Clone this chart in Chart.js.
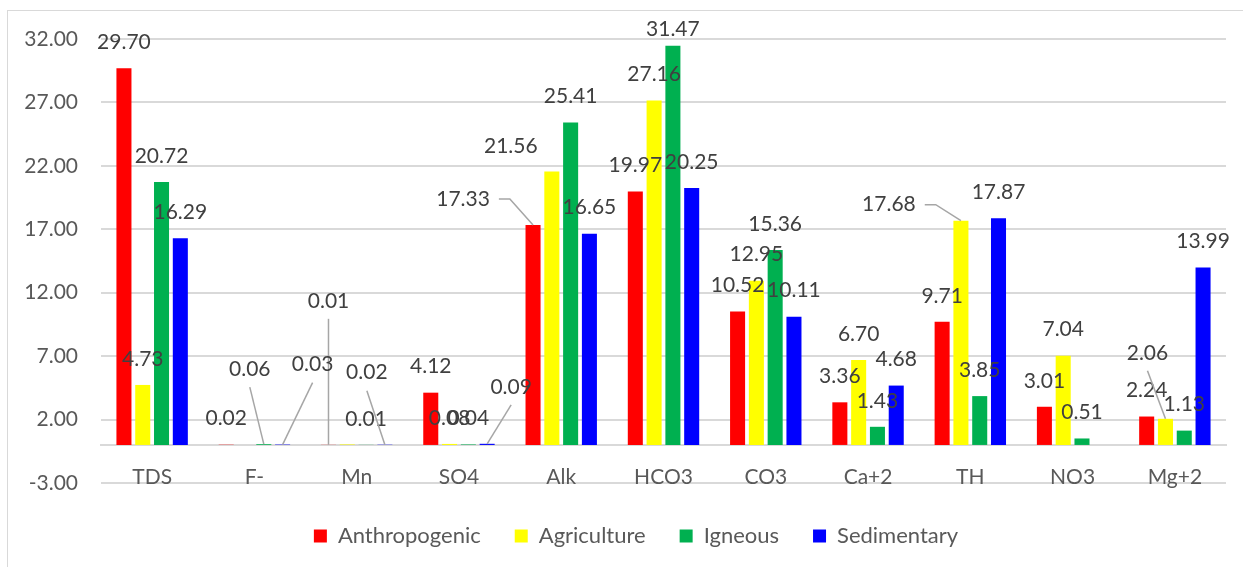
<!DOCTYPE html>
<html lang="en">
<head>
    <meta charset="UTF-8">
    <title>Water quality parameters by source</title>
    <script src="https://cdn.jsdelivr.net/npm/chart.js"></script>
    <style>
        html, body { margin: 0; padding: 0; background: #ffffff; }
    </style>
</head>
<body>
    <canvas id="sourceChart" width="1243" height="567"></canvas>
    <script>
        const parameters = ['TDS', 'F-', 'Mn', 'SO4', 'Alk', 'HCO3', 'CO3', 'Ca+2', 'TH', 'NO3', 'Mg+2'];
        const anthropogenic = [29.70, 0.02, 0.01, 4.12, 17.33, 19.97, 10.52, 3.36, 9.71, 3.01, 2.24];
        const agriculture = [4.73, null, 0.04, 0.08, 21.56, 27.16, 12.95, 6.70, 17.68, 7.04, 2.06];
        const igneous = [20.72, 0.06, 0.01, 0.04, 25.41, 31.47, 15.36, 1.43, 3.85, 0.51, 1.13];
        const sedimentary = [16.29, 0.03, 0.02, 0.09, 16.65, 20.25, 10.11, 4.68, 17.87, null, 13.99];
        const yMin = -3, yMax = 32, yStep = 5;

        const FONT = 'Lato';
        const LABEL_SIZE = 21;

        // value labels sit 26px above the bar top unless moved; moved ones may get a leader line
        const labelMoves = {
            '2:1': { dx: -14, dy: -75, leader: 'below' },
            '3:1': { dx: 30, dy: -80, leader: 'below' },
            '0:2': { dx: 0, dy: -144, leader: 'below' },
            '3:2': { dx: -18, dy: -72, leader: 'below' },
            '3:3': { dx: 24, dy: -57, leader: 'below' },
            '0:4': { dx: -70, dy: -26, leader: 'side' },
            '1:4': { dx: -41, dy: -25 },
            '2:5': { dx: 0, dy: -16 },
            '1:8': { dx: -72, dy: -16, leader: 'side' },
            '1:10': { dx: -18, dy: -66, leader: 'below' }
        };
        const hiddenLabels = ['1:2'];

        const valueLabels = {
            id: 'valueLabels',
            afterDatasetsDraw(chart) {
                const ctx = chart.ctx;
                ctx.save();
                ctx.font = LABEL_SIZE + 'px ' + FONT;
                ctx.textAlign = 'center';
                ctx.textBaseline = 'middle';
                chart.data.datasets.forEach((ds, i) => {
                    chart.getDatasetMeta(i).data.forEach((bar, j) => {
                        const v = ds.data[j];
                        const key = i + ':' + j;
                        if (v === null || hiddenLabels.includes(key)) return;
                        const move = labelMoves[key] || { dx: 0, dy: -26 };
                        const text = v.toFixed(2);
                        const lx = bar.x + move.dx;
                        const ly = bar.y + move.dy;
                        if (move.leader) {
                            ctx.strokeStyle = '#A6A6A6';
                            ctx.lineWidth = 1.5;
                            ctx.beginPath();
                            if (move.leader === 'side') {
                                const sx = lx + ctx.measureText(text).width / 2 + 9;
                                ctx.moveTo(sx, ly);
                                ctx.lineTo(sx + 11, ly);
                            } else {
                                ctx.moveTo(lx, ly + 18);
                            }
                            ctx.lineTo(bar.x, bar.y);
                            ctx.stroke();
                        }
                        ctx.fillStyle = '#404040';
                        ctx.fillText(text, lx, ly);
                    });
                });
                ctx.restore();
            }
        };

        const frame = {
            id: 'frame',
            beforeDraw(chart) {
                const ctx = chart.ctx;
                ctx.save();
                ctx.fillStyle = '#ffffff';
                ctx.fillRect(0, 0, chart.width, chart.height);
                ctx.strokeStyle = '#D9D9D9';
                ctx.lineWidth = 1;
                ctx.strokeRect(7.5, 10.5, chart.width + 20, chart.height + 20);
                ctx.restore();
            },
            // centre the legend between the tick labels and the right edge of the plot
            afterLayout(chart) {
                chart.legend.left = 46;
            }
        };

        const tickFont = { family: FONT, size: LABEL_SIZE };

        new Chart(document.getElementById('sourceChart'), {
            type: 'bar',
            data: {
                labels: parameters,
                datasets: [
                    { label: 'Anthropogenic', data: anthropogenic, backgroundColor: '#FF0000' },
                    { label: 'Agriculture', data: agriculture, backgroundColor: '#FFFF00' },
                    { label: 'Igneous', data: igneous, backgroundColor: '#00B050' },
                    { label: 'Sedimentary', data: sedimentary, backgroundColor: '#0000FF' }
                ]
            },
            options: {
                responsive: false,
                animation: false,
                categoryPercentage: 0.735,
                barPercentage: 0.8,
                layout: { padding: { left: 0, right: 17, top: 39, bottom: 10 } },
                plugins: {
                    legend: {
                        position: 'bottom',
                        labels: {
                            boxWidth: 13,
                            boxHeight: 13,
                            padding: 34,
                            color: '#595959',
                            font: { family: FONT, size: 22 }
                        }
                    },
                    tooltip: { enabled: false }
                },
                scales: {
                    y: {
                        min: yMin,
                        max: yMax,
                        ticks: {
                            stepSize: yStep,
                            padding: 23,
                            color: '#595959',
                            font: tickFont,
                            callback: v => v.toFixed(2)
                        },
                        grid: { color: '#D9D9D9', lineWidth: 2, drawTicks: false },
                        border: { display: false },
                        afterFit: s => { s.width = 101; }
                    },
                    x: {
                        position: { y: 0 },
                        grid: { display: false, drawTicks: false },
                        border: { color: '#D9D9D9', width: 2 },
                        ticks: { padding: 20, color: '#595959', font: tickFont }
                    },
                    // spacer between the plot area and the legend
                    xSpacer: {
                        axis: 'x',
                        type: 'category',
                        position: 'bottom',
                        grid: { display: false, drawTicks: false },
                        border: { display: false },
                        ticks: { display: false },
                        afterFit: s => { s.height = 8; }
                    }
                }
            },
            plugins: [frame, valueLabels]
        });
    </script>
</body>
</html>
